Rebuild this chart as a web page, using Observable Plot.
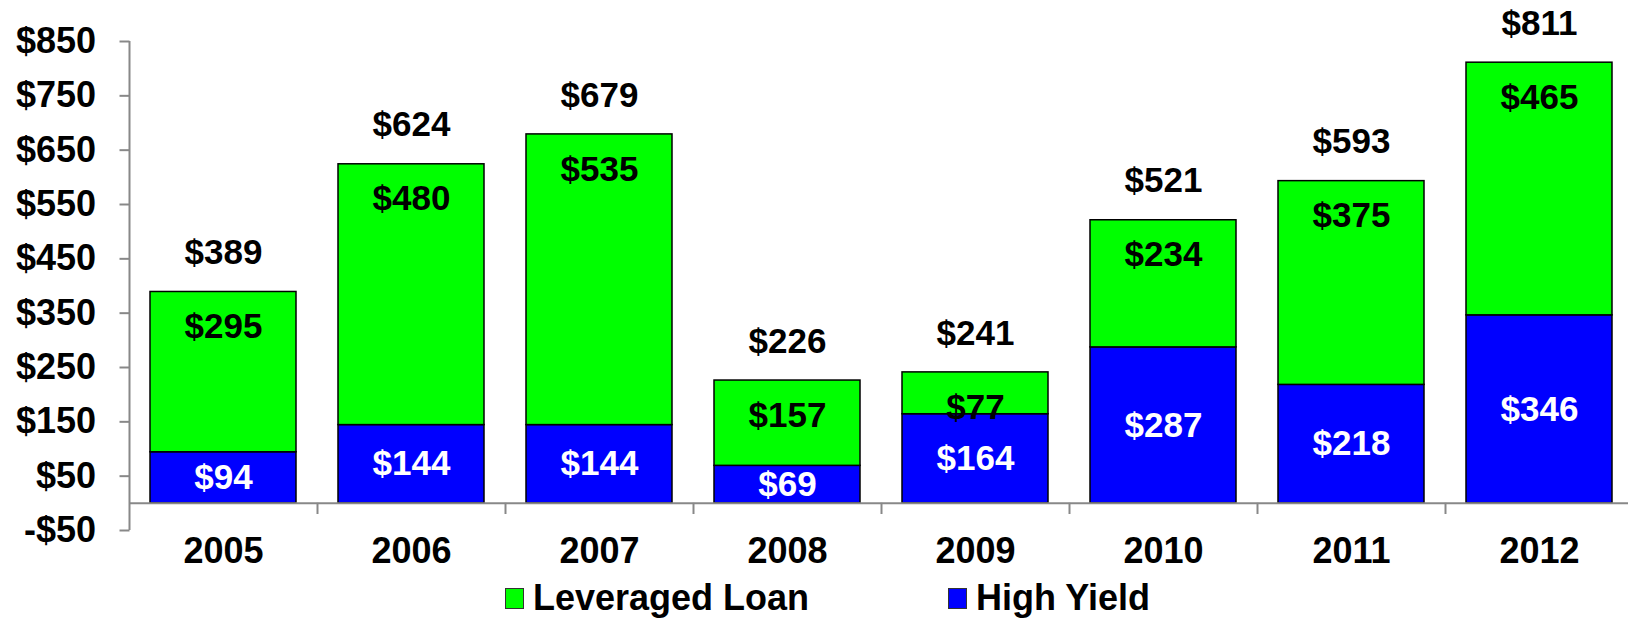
<!DOCTYPE html>
<html>
<head>
<meta charset="utf-8">
<script src="https://cdn.jsdelivr.net/npm/d3@7"></script>
<script src="https://cdn.jsdelivr.net/npm/@observablehq/plot@0.6"></script>
<style>
  html, body { margin: 0; padding: 0; background: #fff; }
  #wrap { position: relative; width: 1628px; height: 619px; overflow: hidden; font-family: "Liberation Sans", Arial, sans-serif; font-weight: bold; }
  .leg { position: absolute; top: 580px; display: flex; align-items: flex-start; font-size: 36px; line-height: 36px; color: #000; white-space: nowrap; }
  .sw { display: inline-block; width: 17px; height: 19px; border: 1.5px solid #333; margin-top: 8px; margin-right: 9px; }
</style>
</head>
<body>
<div id="wrap"></div>
<script>
const years = ["2005", "2006", "2007", "2008", "2009", "2010", "2011", "2012"];
const leveragedLoan = [295, 480, 535, 157, 77, 234, 375, 465];
const highYield = [94, 144, 144, 69, 164, 287, 218, 346];
const totals = [389, 624, 679, 226, 241, 521, 593, 811];
const seriesNames = ["Leveraged Loan", "High Yield"];
const seriesColors = ["#00ff00", "#0000ff"];
const yTicks = [-50, 50, 150, 250, 350, 450, 550, 650, 750, 850];

const money = d => (d < 0 ? "-$" : "$") + Math.abs(d);

const rows = [];
years.forEach((y, i) => {
  rows.push({year: y, series: "High Yield", value: highYield[i]});
  rows.push({year: y, series: "Leveraged Loan", value: leveragedLoan[i]});
});
const perYear = years.map((y, i) => ({year: y, ll: leveragedLoan[i], hy: highYield[i], total: totals[i]}));

const X0 = 129.5, X1 = 1633.5;
const STEP = (X1 - X0) / years.length;

const chart = Plot.plot({
  width: 1628,
  height: 580,
  marginLeft: 129.5,
  marginRight: 0,
  marginTop: 41,
  marginBottom: 50,
  style: {fontFamily: "'Liberation Sans', Arial, sans-serif", fontWeight: "bold", color: "#000", background: "#fff"},
  x: {domain: years, range: [X0, X1], paddingInner: 0.223, paddingOuter: 0.1115, align: 0.5},
  y: {domain: [-50, 850]},
  color: {domain: seriesNames, range: seriesColors},
  marks: [
    Plot.barY(rows, {x: "year", y: "value", fill: "series", stroke: "#000", strokeWidth: 1.5, order: null}),
    Plot.ruleY([0], {stroke: "#888", strokeWidth: 2}),
    Plot.ruleX([years[0]], {x: d => d, y1: -50, y2: 850, dx: -STEP / 2, stroke: "#888", strokeWidth: 2}),
    Plot.ruleX(years, {x: d => d, y1: 0, y2: -50, dx: STEP / 2, insetBottom: 16, stroke: "#888", strokeWidth: 2}),
    Plot.axisY({ticks: yTicks, tickFormat: money, tickSize: 10, tickPadding: 24, stroke: "#888", strokeWidth: 2, fontSize: 36, fontWeight: "bold", fill: "#000", label: null}),
    Plot.axisX({tickSize: 0, tickPadding: 7, fontSize: 36, fontWeight: "bold", fill: "#000", label: null}),
    Plot.text(perYear, {x: "year", y: "total", text: d => money(d.total), dy: -39, fontSize: 35, fontWeight: "bold", fill: "#000"}),
    Plot.text(perYear, {x: "year", y: "total", text: d => money(d.ll), dy: 35, fontSize: 35, fontWeight: "bold", fill: "#000"}),
    Plot.text(perYear, {x: "year", y: d => d.hy / 2, text: d => money(d.hy), fontSize: 35, fontWeight: "bold", fill: "#fff"})
  ]
});

const wrap = document.getElementById("wrap");
wrap.appendChild(chart);

const legendPos = [505, 948];
seriesNames.forEach((name, i) => {
  const item = document.createElement("div");
  item.className = "leg";
  item.style.left = legendPos[i] + "px";
  const sw = document.createElement("span");
  sw.className = "sw";
  sw.style.background = seriesColors[i];
  const label = document.createElement("span");
  label.textContent = name;
  item.appendChild(sw);
  item.appendChild(label);
  wrap.appendChild(item);
});
</script>
</body>
</html>
